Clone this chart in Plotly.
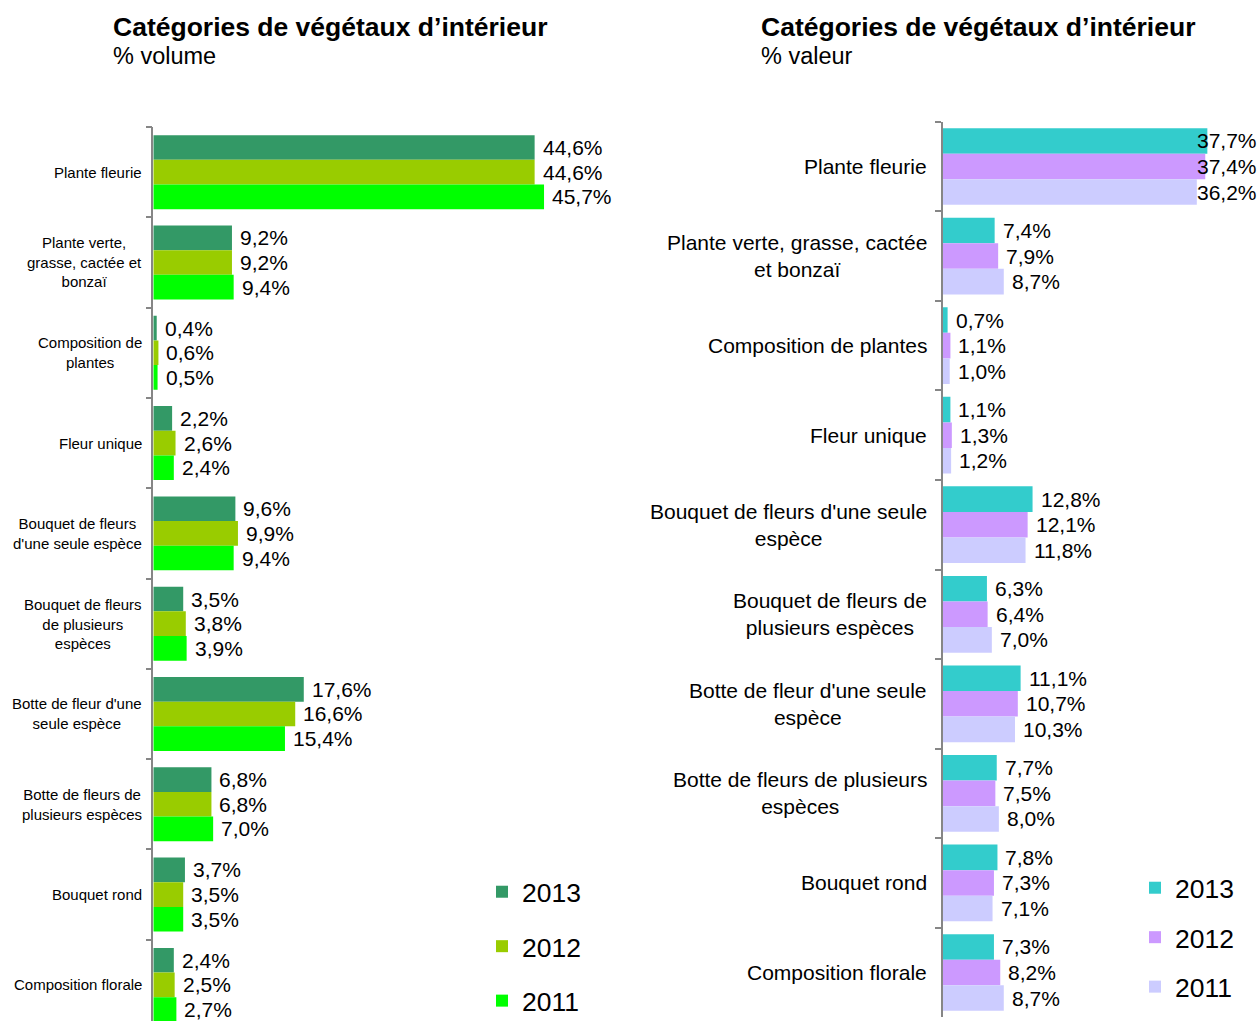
import plotly.graph_objects as go

FONT = "Liberation Sans, Arial, sans-serif"

categories = [
    "Plante fleurie",
    "Plante verte, grasse, cactée et bonzaï",
    "Composition de plantes",
    "Fleur unique",
    "Bouquet de fleurs d'une seule espèce",
    "Bouquet de fleurs de plusieurs espèces",
    "Botte de fleur d'une seule espèce",
    "Botte de fleurs de plusieurs espèces",
    "Bouquet rond",
    "Composition florale",
]
labels_left = [
    "Plante fleurie",
    "Plante verte,<br>grasse, cactée et<br>bonzaï",
    "Composition de<br>plantes",
    "Fleur unique",
    "Bouquet de fleurs<br>d'une seule espèce",
    "Bouquet de fleurs<br>de plusieurs<br>espèces",
    "Botte de fleur d'une<br>seule espèce",
    "Botte de fleurs de<br>plusieurs espèces",
    "Bouquet rond",
    "Composition florale",
]
labels_right = [
    "Plante fleurie",
    "Plante verte, grasse, cactée<br>et bonzaï",
    "Composition de plantes",
    "Fleur unique",
    "Bouquet de fleurs d'une seule<br>espèce",
    "Bouquet de fleurs de<br>plusieurs espèces",
    "Botte de fleur d'une seule<br>espèce",
    "Botte de fleurs de plusieurs<br>espèces",
    "Bouquet rond",
    "Composition florale",
]
years = ["2013", "2012", "2011"]

volume_2013 = [44.6, 9.2, 0.4, 2.2, 9.6, 3.5, 17.6, 6.8, 3.7, 2.4]
volume_2012 = [44.6, 9.2, 0.6, 2.6, 9.9, 3.8, 16.6, 6.8, 3.5, 2.5]
volume_2011 = [45.7, 9.4, 0.5, 2.4, 9.4, 3.9, 15.4, 7.0, 3.5, 2.7]

valeur_2013 = [37.7, 7.4, 0.7, 1.1, 12.8, 6.3, 11.1, 7.7, 7.8, 7.3]
valeur_2012 = [37.4, 7.9, 1.1, 1.3, 12.1, 6.4, 10.7, 7.5, 7.3, 8.2]
valeur_2011 = [36.2, 8.7, 1.0, 1.2, 11.8, 7.0, 10.3, 8.0, 7.1, 8.7]

colors_left = ["#339966", "#99CC00", "#00FF00"]
colors_right = ["#33CCCC", "#CC99FF", "#CCCCFF"]

W, H = 1259, 1021

# pixel geometry
L_AX_X = 153.3
L_PX_PER_UNIT = 8.55
L_DOM_END = 700
R_AX_X = 942.7
R_PX_PER_UNIT = 7.02
R_DOM_END = 1259

left_xmax = (L_DOM_END - L_AX_X) / L_PX_PER_UNIT
right_xmax = (R_DOM_END - R_AX_X) / R_PX_PER_UNIT

fig = go.Figure()

def fmt(v):
    return f"{v:.1f}".replace(".", ",") + "%"

def add_group(series, colors, xa, ya, legend, bw, lgname):
    for i, (vals, col, yr) in enumerate(zip(series, colors, years)):
        fig.add_trace(go.Bar(
            x=vals, y=categories, orientation="h",
            marker=dict(color=col, line=dict(width=0)),
            name=yr, legend=legend, legendgroup=lgname + yr,
            xaxis=xa, yaxis=ya,
            width=bw, offset=-1.5 * bw + i * bw,
            hoverinfo="skip",
        ))

add_group([volume_2013, volume_2012, volume_2011], colors_left, "x", "y", "legend", 0.273, "L")
add_group([valeur_2013, valeur_2012, valeur_2011], colors_right, "x2", "y2", "legend2", 0.2855, "R")

ann = []

def value_labels(series, bw, xref, yref, xmax, pxu, fs):
    for i, vals in enumerate(series):
        for c, v in zip(categories, vals):
            yoff = -bw + i * bw  # center of bar relative to category
            yidx = categories.index(c) + yoff
            est_w = 62
            if (v * pxu + 8 + est_w) > xmax * pxu:
                ann.append(dict(x=xmax, y=yidx, xref=xref, yref=yref, text=fmt(v),
                                xanchor="right", yanchor="middle", showarrow=False,
                                font=dict(family=FONT, size=fs, color="#000")))
            else:
                ann.append(dict(x=v, y=yidx, xref=xref, yref=yref, text=fmt(v),
                                xanchor="left", yanchor="middle", showarrow=False, xshift=6,
                                font=dict(family=FONT, size=fs, color="#000")))

value_labels([volume_2013, volume_2012, volume_2011], 0.273, "x", "y", left_xmax, L_PX_PER_UNIT, 21)
value_labels([valeur_2013, valeur_2012, valeur_2011], 0.2855, "x2", "y2", right_xmax, R_PX_PER_UNIT, 21)

for c, lab in zip(categories, labels_left):
    ann.append(dict(x=0, y=c, xref="x", yref="y", text=lab, xanchor="right", yanchor="middle",
                    align="center", showarrow=False, xshift=-9,
                    font=dict(family=FONT, size=15, color="#000")))
for c, lab in zip(categories, labels_right):
    ann.append(dict(x=0, y=c, xref="x2", yref="y2", text=lab, xanchor="right", yanchor="middle",
                    align="center", showarrow=False, xshift=-14,
                    font=dict(family=FONT, size=21, color="#000")))

title = "Catégories de végétaux d’intérieur"
for xpx, sub in [(111, "% volume"), (759, "% valeur")]:
    ann.append(dict(x=xpx / W, y=1 - 27 / H, xref="paper", yref="paper", text=f"<b>{title}</b>",
                    xanchor="left", yanchor="middle", showarrow=False,
                    font=dict(family=FONT, size=26.5, color="#000")))
    ann.append(dict(x=xpx / W, y=1 - 56 / H, xref="paper", yref="paper", text=sub,
                    xanchor="left", yanchor="middle", showarrow=False,
                    font=dict(family=FONT, size=23.5, color="#000")))

axis_common = dict(showgrid=False, zeroline=False, showticklabels=False)
yaxis_common = dict(type="category", categoryorder="array", categoryarray=categories,
                    showgrid=False, zeroline=False, showticklabels=False,
                    showline=True, linecolor="#868686", linewidth=1.5,
                    ticks="outside", ticklen=6, tickcolor="#868686", tickwidth=1.5,
                    tickson="boundaries")

fig.update_layout(
    width=W, height=H, autosize=False,
    margin=dict(l=0, r=0, t=0, b=0, pad=0, autoexpand=False),
    paper_bgcolor="white", plot_bgcolor="white",
    barmode="group",
    xaxis=dict(domain=[L_AX_X / W, L_DOM_END / W], range=[0, left_xmax], anchor="y", **axis_common),
    yaxis=dict(domain=[0, 1 - 127 / H], range=[9.4, -0.5], anchor="x", **yaxis_common),
    xaxis2=dict(domain=[R_AX_X / W, R_DOM_END / W], range=[0, right_xmax], anchor="y2", **axis_common),
    yaxis2=dict(domain=[(H - 1017.3) / H, 1 - 121.7 / H], range=[9.5, -0.5], anchor="x2", **yaxis_common),
    legend=dict(x=482 / W, y=1 - 868 / H, xanchor="left", yanchor="top",
                font=dict(family=FONT, size=26.5, color="#000"), tracegroupgap=17,
                bgcolor="rgba(0,0,0,0)", itemclick=False),
    legend2=dict(x=1135 / W, y=1 - 864 / H, xanchor="left", yanchor="top",
                 font=dict(family=FONT, size=26.5, color="#000"), tracegroupgap=12,
                 bgcolor="rgba(0,0,0,0)", itemclick=False),
    annotations=ann,
    showlegend=True,
)

fig.write_html("out.html", config={"displayModeBar": False},
               post_script="document.body.style.margin='0';document.body.style.overflow='hidden';")
